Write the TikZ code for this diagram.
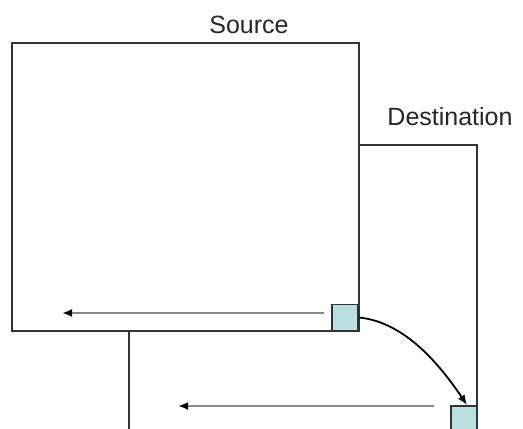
\documentclass[tikz,border=0pt]{standalone}
\usepackage{fontspec}
\setmainfont{Liberation Sans}
\usetikzlibrary{arrows.meta}
\definecolor{frame}{HTML}{333333}
\definecolor{flow}{HTML}{8A8A8A}
\definecolor{cell}{HTML}{B8DFE1}
\tikzset{
  region/.style={draw=frame, line width=2pt, fill=white, anchor=north west, inner sep=0pt},
  cellbox/.style={draw=frame, line width=1.8pt, fill=cell, minimum width=26pt, minimum height=26pt, inner sep=0pt},
  flowline/.style={draw=flow, line width=2.6pt, -{Latex[length=10pt,width=8pt,black]}},
  copyarrow/.style={draw=black, line width=1.8pt, -{Latex[length=10pt,width=8pt]}},
  lbl/.style={font=\fontsize{25}{30}\selectfont, text=black!85, inner sep=0pt, anchor=base}
}
\begin{document}
\begin{tikzpicture}[x=1pt,y=-1pt]
\useasboundingbox (0,0) rectangle (523,429);
\clip (0,0) rectangle (523,429);
% destination region (partly hidden)
\node[region, minimum width=348pt, minimum height=320pt] (dst) at (128,144) {};
% source region on top
\node[region, minimum width=347pt, minimum height=288pt] (src) at (11,42) {};
% labels
\node[lbl] (srclbl) at (249,33) {Source};
\node[lbl] (dstlbl) at (450,125) {Destination};
% cells
\node[cellbox] (sq1) at (345,317.5) {};
\node[cellbox] (sq2) at (464,419) {};
% flow lines
\coordinate (f1s) at (324,313);
\coordinate (f1e) at (62,313);
\coordinate (f2s) at (434,406);
\coordinate (f2e) at (178,406);
\draw[flowline] (f1s) -- (f1e);
\draw[flowline] (f2s) -- (f2e);
% copy arrow
\coordinate (tgt) at (467,405);
\draw[copyarrow] (sq1.east) .. controls (405,322) and (440,365) .. (tgt);
\end{tikzpicture}
\end{document}
